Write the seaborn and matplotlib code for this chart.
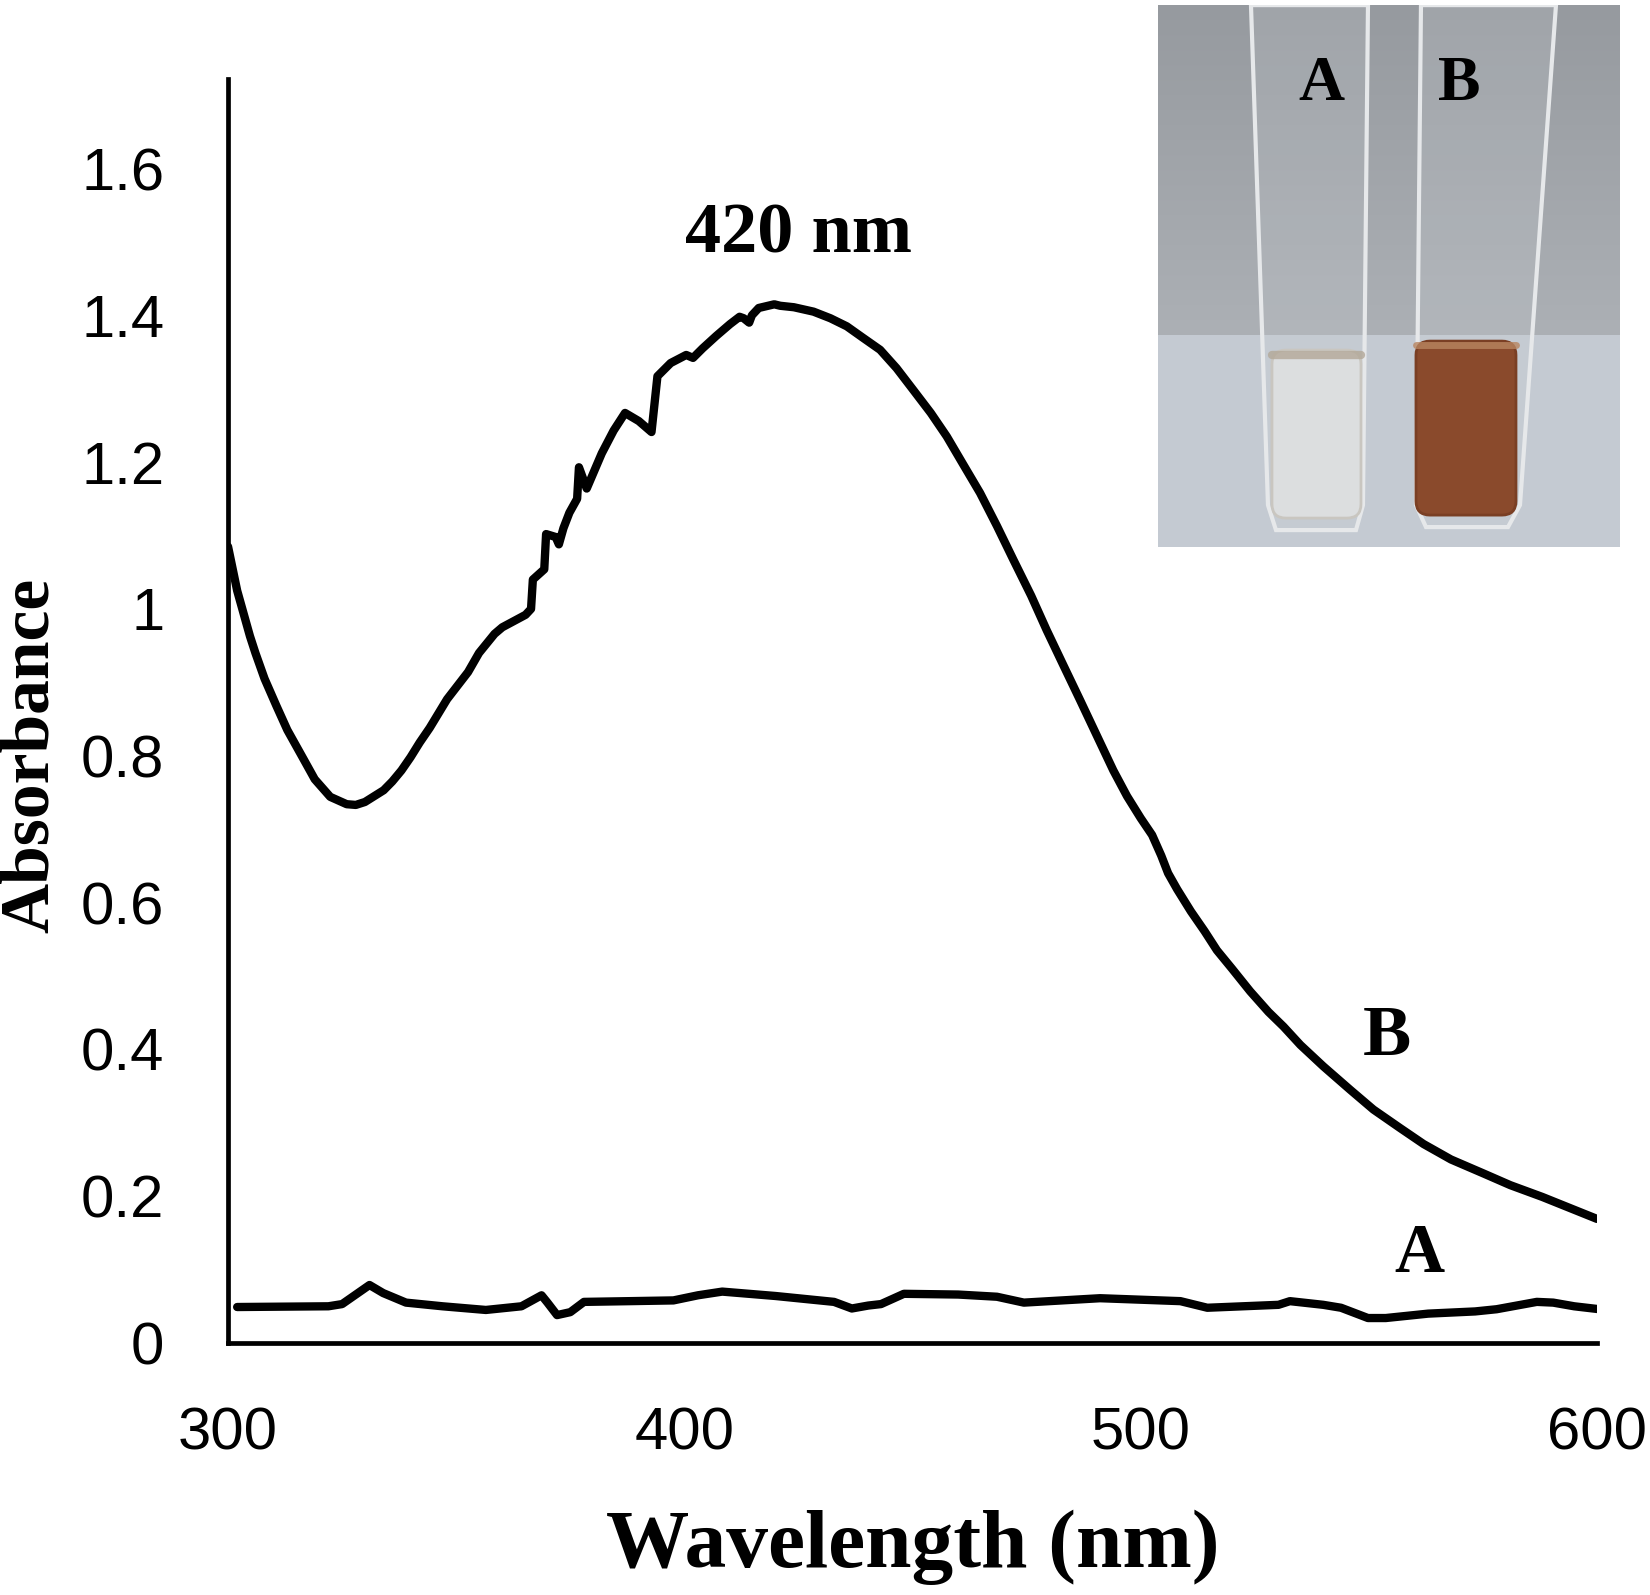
import matplotlib

matplotlib.use("Agg")
import matplotlib.pyplot as plt
import numpy as np
import pandas as pd
import seaborn as sns
from matplotlib.patches import FancyBboxPatch, Polygon
from matplotlib.ticker import FuncFormatter

# Spectrum B (with silver nanoparticles)
wl_b = [300, 302, 304.8, 306, 308, 310.6, 313, 316.5, 319, 322.4, 326, 328,
        330, 334.1, 336, 338, 340, 342, 344.2, 348, 352.6, 355, 358.4, 360.1,
        365.2, 366.4, 366.8, 369.3, 369.7, 371.8, 372.5, 373.5, 374.8, 376.5,
        376.9, 378.6, 381.9, 384.5, 387.0, 390, 392.8, 394.1, 397, 400.4,
        401.9, 404, 407, 410, 412.1, 413, 414.2, 414.8, 416.3, 419.7, 421,
        424, 428.3, 432, 435.6, 439, 442.9, 446.5, 450.2, 454, 457.5, 461,
        464.8, 468.5, 472.1, 476, 479.4, 483, 486.7, 490.5, 494, 497, 500,
        502.5, 504.5, 506, 508, 511, 514, 516.7, 520, 524, 528, 531.3, 535,
        540, 545.9, 551, 556.8, 562, 568, 575.1, 581, 588, 594, 600]
abs_b = [1.085, 1.025, 0.963, 0.940, 0.905, 0.868, 0.835, 0.796, 0.768, 0.744,
         0.734, 0.733, 0.737, 0.753, 0.765, 0.780, 0.798, 0.818, 0.838, 0.877,
         0.914, 0.940, 0.966, 0.975, 0.992, 1.000, 1.040, 1.054, 1.102, 1.098,
         1.088, 1.110, 1.131, 1.150, 1.193, 1.164, 1.212, 1.243, 1.267, 1.256,
         1.241, 1.317, 1.335, 1.346, 1.342, 1.355, 1.372, 1.388, 1.398, 1.396,
         1.390, 1.400, 1.410, 1.415, 1.413, 1.411, 1.405, 1.396, 1.385, 1.370,
         1.353, 1.328, 1.298, 1.267, 1.235, 1.198, 1.158, 1.113, 1.067, 1.018,
         0.971, 0.924, 0.876, 0.826, 0.780, 0.745, 0.715, 0.692, 0.664, 0.640,
         0.618, 0.588, 0.561, 0.535, 0.510, 0.479, 0.451, 0.431, 0.406, 0.377,
         0.345, 0.318, 0.293, 0.271, 0.250, 0.231, 0.215, 0.199, 0.184, 0.169]

# Spectrum A (control)
wl_a = [302, 322, 325, 331, 334, 339, 347, 356.5, 364.3, 368.7, 370, 372.1,
        375, 378, 388, 397.6, 403, 408.3, 420, 432.8, 436.7, 440.3, 443.1,
        448.1, 460, 468.5, 474.4, 491.1, 508.7, 514.6, 530.2, 532.7, 540,
        543.9, 549.8, 553.7, 563, 573.3, 578, 586.8, 590.4, 595, 600.5]
abs_a = [0.049, 0.050, 0.053, 0.079, 0.068, 0.055, 0.050, 0.045, 0.050, 0.065,
         0.055, 0.038, 0.042, 0.056, 0.057, 0.058, 0.065, 0.070, 0.064, 0.056,
         0.047, 0.051, 0.053, 0.067, 0.066, 0.063, 0.055, 0.061, 0.057, 0.048,
         0.052, 0.057, 0.052, 0.048, 0.034, 0.034, 0.040, 0.043, 0.046, 0.056,
         0.055, 0.050, 0.046]

x_ticks = [300, 400, 500, 600]
y_ticks = [0, 0.2, 0.4, 0.6, 0.8, 1.0, 1.2, 1.4, 1.6]

sns.set_style("white")
plt.rcParams["font.family"] = ["Liberation Serif", "DejaVu Serif"]
plt.rcParams["text.color"] = "black"
plt.rcParams["axes.labelcolor"] = "black"
plt.rcParams["xtick.color"] = "black"
plt.rcParams["ytick.color"] = "black"

fig = plt.figure(figsize=(16.5, 15.95), dpi=100)
ax = fig.add_axes([0.1382, 0.158, 0.8297, 0.7925])

df_b = pd.DataFrame({"wl": wl_b, "abs": abs_b})
df_a = pd.DataFrame({"wl": wl_a, "abs": abs_a})
sns.lineplot(data=df_b, x="wl", y="abs", ax=ax, color="black", lw=6,
             sort=False, estimator=None, solid_capstyle="round",
             solid_joinstyle="round")
sns.lineplot(data=df_a, x="wl", y="abs", ax=ax, color="black", lw=6,
             sort=False, estimator=None, solid_capstyle="round",
             solid_joinstyle="round")

ax.set_xlim(300, 600)
ax.set_ylim(0, 1.722)
ax.set_xticks(x_ticks)
ax.set_yticks(y_ticks)
ax.yaxis.set_major_formatter(FuncFormatter(lambda v, p: f"{v:g}"))
ax.tick_params(length=0, labelsize=43, pad=46)
for lab in ax.get_xticklabels() + ax.get_yticklabels():
    lab.set_fontfamily("Liberation Sans")

for side in ["top", "right"]:
    ax.spines[side].set_visible(False)
for side in ["left", "bottom"]:
    ax.spines[side].set_color("black")
    ax.spines[side].set_linewidth(3.4)

ax.set_xlabel("Wavelength (nm)", fontsize=60, fontweight="bold")
ax.set_ylabel("Absorbance", fontsize=50, fontweight="bold")
ax.xaxis.set_label_coords(0.5, -0.132)
ax.yaxis.set_label_coords(-0.121, 0.465)

ax.text(425, 1.51, "420 nm", fontsize=52, fontweight="bold",
        ha="center", va="center")
ax.text(554, 0.416, "B", fontsize=52, fontweight="bold", ha="center", va="center")
ax.text(561, 0.120, "A", fontsize=50, fontweight="bold", ha="center", va="center")

# Inset: sketch of the two test tubes (photo in the original)
ins = fig.add_axes([0.7018, 0.657, 0.2794, 0.3398])
ins.set_xlim(0, 461)
ins.set_ylim(542, 0)
ins.axis("off")
top = np.array([150, 154, 159]) / 255
top2 = np.array([172, 176, 181]) / 255
bench = np.array([196, 202, 210]) / 255
bg = np.zeros((542, 1, 3))
for i in range(542):
    if i < 330:
        t = i / 330
        bg[i, 0] = top * (1 - t) + top2 * t
    else:
        bg[i, 0] = bench
ins.imshow(bg, extent=(0, 461, 542, 0), aspect="auto")

# tubes
tube_a = Polygon([[93, 0], [210, 0], [205, 500], [198, 525], [118, 525], [110, 500]],
                 closed=True, facecolor=(0.8, 0.82, 0.84, 0.2),
                 edgecolor="#e6e8ea", lw=3)
tube_b = Polygon([[263, 0], [398, 0], [362, 500], [350, 522], [268, 522], [258, 500]],
                 closed=True, facecolor=(0.8, 0.82, 0.84, 0.2),
                 edgecolor="#e6e8ea", lw=3)
ins.add_patch(tube_a)
ins.add_patch(tube_b)
liq_a = FancyBboxPatch((114, 345), 89, 168, boxstyle="round,pad=0,rounding_size=14",
                       facecolor="#dcdedf", edgecolor="#c9c6c0", lw=2)
liq_b = FancyBboxPatch((258, 336), 100, 174, boxstyle="round,pad=0,rounding_size=14",
                       facecolor="#8a4a2c", edgecolor="#7a3f24", lw=2)
ins.add_patch(liq_a)
ins.add_patch(liq_b)
ins.plot([114, 203], [350, 350], color="#b3a898", lw=6, alpha=0.8)
ins.plot([258, 358], [340, 340], color="#b88560", lw=5, alpha=0.8)
ins.text(163, 80, "A", fontsize=46, fontweight="bold", ha="center", va="center")
ins.text(301, 80, "B", fontsize=46, fontweight="bold", ha="center", va="center")

fig.savefig("out.png", dpi=100, facecolor="white")
plt.close(fig)
